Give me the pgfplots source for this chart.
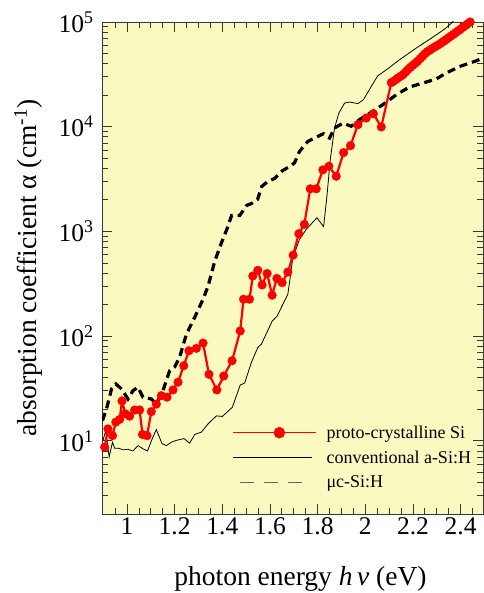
\documentclass[border=0pt]{standalone}
\usepackage{fontspec}
\setmainfont{Liberation Serif}
\usepackage{pgfplots}
\pgfplotsset{compat=1.18}
\definecolor{bgyellow}{RGB}{250,250,192}
\definecolor{axgray}{RGB}{55,55,55}

\begin{document}
\begin{tikzpicture}
\useasboundingbox (-102pt,-79pt) rectangle (381pt,514pt);
\begin{axis}[
  scale only axis, width=381pt, height=492pt,
  ymode=log, xmin=0.895, xmax=2.494, ymin=2, ymax=1e5,
  axis background/.style={fill=bgyellow},
  axis line style={axgray, line width=0.8pt},
  tick style={axgray, line width=0.8pt},
  tick align=inside,
  major tick length=10pt, minor tick length=6pt,
  xtick={1,1.2,1.4,1.6,1.8,2,2.2,2.4},
  xticklabels={1,1.2,1.4,1.6,1.8,2,2.2,2.4},
  minor xtick={0.95,1.05,1.1,1.15,1.25,1.3,1.35,1.45,1.5,1.55,1.65,1.7,1.75,1.85,1.9,1.95,2.05,2.1,2.15,2.25,2.3,2.35,2.45},
  ytick={10,100,1000,10000,100000},
  yticklabels={10\textsuperscript{1},10\textsuperscript{2},10\textsuperscript{3},10\textsuperscript{4},10\textsuperscript{5}},
  minor ytick={2,3,4,5,6,7,8,9,20,30,40,50,60,70,80,90,200,300,400,500,600,700,800,900,2000,3000,4000,5000,6000,7000,8000,9000,20000,30000,40000,50000,60000,70000,80000,90000},
  ticklabel style={font=\fontsize{25.5}{25.5}\selectfont},
  yticklabel style={xshift=-5pt},
  label style={font=\fontsize{27.5}{27.5}\selectfont},
  xlabel={photon energy \textit{h}\,\textit{ν} (eV)},
  ylabel={absorption coefficient α (cm\textsuperscript{-1})},
  xlabel style={at={(axis description cs:0.521,-0.1463)}, anchor=base},
  ylabel style={at={(axis description cs:-0.1732,0.5)}, anchor=base},
  clip mode=individual,
  legend style={at={(axis description cs:0.335,0.188)}, anchor=north west,
    draw=none, fill=none, font=\fontsize{18}{18}\selectfont,
    legend cell align=left, row sep=7pt},
]
% muc-Si:H
\addplot[black, line width=3.2pt, dash pattern=on 8pt off 5pt, forget plot] coordinates {
(0.897,15.6) (0.914,20.2) (0.935,31.3) (0.953,34.9) (0.977,31.3) (1.004,25.1)
(1.025,30.1) (1.046,32.5) (1.067,26.1) (1.102,25.1) (1.123,22.5) (1.151,30.1)
(1.179,46.8) (1.200,50.7) (1.221,63.1) (1.249,104) (1.284,151) (1.319,225)
(1.340,299) (1.368,518) (1.397,785) (1.422,1091) (1.439,1420) (1.473,1420)
(1.485,1550) (1.502,1770) (1.523,1850) (1.548,2020) (1.565,2680) (1.590,2990)
(1.619,3200) (1.653,3810) (1.682,4160) (1.703,4510) (1.724,5820) (1.759,7240)
(1.801,8080) (1.825,8580) (1.850,7800) (1.871,9720) (1.906,10800) (1.941,10100)
(1.976,11700) (2.031,14000) (2.073,16200) (2.130,20200) (2.185,23900) (2.241,26100)
(2.297,28500) (2.339,32500) (2.395,37500) (2.465,42500) (2.494,45400)
};
% conventional a-Si:H
\addplot[black, line width=0.8pt, forget plot] coordinates {
(0.899,10.1) (0.911,12.5) (0.925,7.0) (0.939,9.7) (0.948,8.5) (0.965,8.5)
(0.983,8.2) (1.004,8.3) (1.025,8.0) (1.046,9.0) (1.067,8.4) (1.086,8.0)
(1.106,10.5) (1.123,12.8) (1.147,9.4) (1.165,9.0) (1.186,9.7) (1.207,10.1)
(1.239,10.5) (1.263,9.5) (1.284,11.5) (1.312,12.1) (1.340,14.5) (1.375,17.3)
(1.400,17.1) (1.442,20.9) (1.475,34.1) (1.494,35.7) (1.522,56.2) (1.549,78.0)
(1.564,83.9) (1.610,140) (1.629,154) (1.675,251) (1.696,562) (1.724,839)
(1.752,1045) (1.797,1350) (1.825,1109) (1.839,2170) (1.853,4850) (1.871,9720)
(1.889,13500) (1.913,16800) (1.934,17200) (1.969,16600) (1.992,18100) (2.025,24200)
(2.052,30600) (2.088,34900) (2.143,43500) (2.213,56200) (2.283,71500) (2.332,85200)
(2.364,98500) (2.380,110000)
};
% proto-crystalline Si
\addplot[red, line width=2.2pt, mark=*, mark size=4.3pt, mark options={fill=red, draw=red, line width=0.4pt}, forget plot] coordinates {
(0.906,8.7) (0.920,13.0) (0.939,11.2) (0.953,15.1) (0.969,16.0) (0.979,24.0)
(0.993,18.1) (1.011,17.2) (1.032,19.7) (1.053,19.7) (1.065,11.5) (1.084,11.2)
(1.102,19.0) (1.123,22.4) (1.144,27.0) (1.168,26.1) (1.193,30.6) (1.214,36.3)
(1.238,52.1) (1.260,72.4) (1.291,76.4) (1.319,85.8) (1.344,43.2) (1.377,30.6)
(1.406,41.6) (1.441,58.2) (1.475,112) (1.489,225) (1.514,225) (1.528,375)
(1.549,425) (1.567,308) (1.588,396) (1.609,246) (1.629,356) (1.651,324)
(1.675,409) (1.697,593) (1.721,951) (1.744,1166) (1.769,2552) (1.794,2552)
(1.822,3870) (1.847,4190) (1.878,3363) (1.909,5650) (1.938,6590) (1.969,10450)
(2.004,12100) (2.034,13300) (2.067,9940) (2.109,26400) (2.12,27300) (2.13,28400)
(2.14,29400) (2.15,30500) (2.16,31700) (2.17,33400) (2.18,35300) (2.19,37000)
(2.20,38700) (2.21,40400) (2.22,42200) (2.23,44600) (2.24,47100) (2.25,49600)
(2.26,52000) (2.27,53700) (2.28,55700) (2.29,57500) (2.30,59300) (2.31,61100)
(2.32,63300) (2.33,65700) (2.34,68200) (2.35,70800) (2.36,73500) (2.37,76300)
(2.38,79300) (2.39,82400) (2.40,85600) (2.41,89000) (2.42,92500) (2.43,96200)
(2.44,100000)
};
\addlegendimage{legend image code/.code={\draw[red, line width=1pt] (0pt,0pt) -- (83pt,0pt); \fill[red] (46pt,0pt) circle (5.5pt); \path (91pt,0pt);}}
\addlegendentry{proto-crystalline Si}
\addlegendimage{legend image code/.code={\draw[black, line width=0.8pt] (0pt,0pt) -- (79pt,0pt); \path (91pt,0pt);}}
\addlegendentry{conventional a-Si:H}
\addlegendimage{legend image code/.code={\draw[black!60, line width=1.3pt, dash pattern=on 14pt off 10pt] (7pt,0pt) -- (76pt,0pt); \path (91pt,0pt);}}
\addlegendentry{μc-Si:H}
\end{axis}
\end{tikzpicture}
\end{document}
